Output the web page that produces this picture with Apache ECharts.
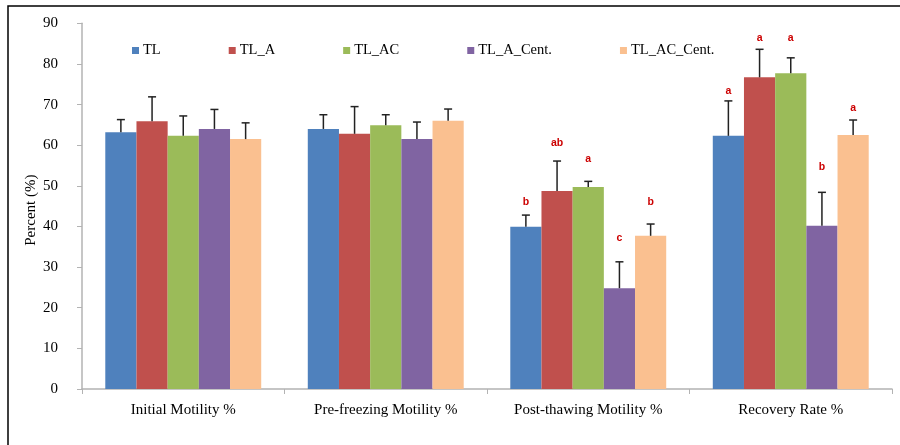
<!DOCTYPE html>
<html>
<head>
<meta charset="utf-8">
<script src="https://cdn.jsdelivr.net/npm/echarts@6/dist/echarts.min.js"></script>
<style>html,body{margin:0;padding:0;background:#fff}#c{width:900px;height:445px}</style>
</head>
<body>
<div id="c"></div>
<script>
const categories = ['Initial Motility %', 'Pre-freezing Motility %', 'Post-thawing Motility %', 'Recovery Rate %'];
const seriesNames = ['TL', 'TL_A', 'TL_AC', 'TL_A_Cent.', 'TL_AC_Cent.'];
const TL = [63.2, 64.0, 39.9, 62.3];
const TL_A = [65.9, 62.8, 48.7, 76.7];
const TL_AC = [62.3, 64.9, 49.7, 77.7];
const TL_A_Cent = [64.0, 61.5, 24.8, 40.2];
const TL_AC_Cent = [61.5, 66.0, 37.7, 62.5];
const TL_err = [3.1, 3.5, 2.9, 8.6];
const TL_A_err = [6.0, 6.7, 7.4, 6.9];
const TL_AC_err = [4.9, 2.6, 1.4, 3.8];
const TL_A_Cent_err = [4.8, 4.2, 6.5, 8.2];
const TL_AC_Cent_err = [4.0, 2.9, 2.9, 3.7];
const TL_letters = ['', '', 'b', 'a'];
const TL_A_letters = ['', '', 'ab', 'a'];
const TL_AC_letters = ['', '', 'a', 'a'];
const TL_A_Cent_letters = ['', '', 'c', 'b'];
const TL_AC_Cent_letters = ['', '', 'b', 'a'];
const TL_letterAt = [null, null, 46.0, 73.4];
const TL_A_letterAt = [null, null, 60.5, 86.3];
const TL_AC_letterAt = [null, null, 56.6, 86.3];
const TL_A_Cent_letterAt = [null, null, 37.2, 54.5];
const TL_AC_Cent_letterAt = [null, null, 45.9, 69.2];
const yTicks = [0, 10, 20, 30, 40, 50, 60, 70, 80, 90];

const means = [TL, TL_A, TL_AC, TL_A_Cent, TL_AC_Cent];
const errs = [TL_err, TL_A_err, TL_AC_err, TL_A_Cent_err, TL_AC_Cent_err];
const letters = [TL_letters, TL_A_letters, TL_AC_letters, TL_A_Cent_letters, TL_AC_Cent_letters];
const letterAt = [TL_letterAt, TL_A_letterAt, TL_AC_letterAt, TL_A_Cent_letterAt, TL_AC_Cent_letterAt];
const colors = ['#4F81BD', '#C0504D', '#9BBB59', '#8064A2', '#FAC090'];
const gapRatio = 0.23;

const errItems = [];
means.forEach((arr, s) => arr.forEach((v, c) => {
  errItems.push({ value: [c, s, v, errs[s][c], letterAt[s][c] == null ? 0 : letterAt[s][c]], letter: letters[s][c] });
}));

const serif = 'Liberation Serif, Times New Roman, serif';
const chart = echarts.init(document.getElementById('c'), null, { renderer: 'canvas' });
const barSeries = seriesNames.map((n, s) => ({
  name: n, type: 'bar', data: means[s], barGap: '0%', barCategoryGap: (gapRatio * 100) + '%',
  itemStyle: { color: colors[s] }, z: 2
}));
chart.setOption({
  animation: false,
  color: colors,
  grid: { left: 82, right: 8, top: 23.3, bottom: 56, containLabel: false },
  legend: {
    data: seriesNames, left: 127, top: 38, icon: 'rect', itemWidth: 7, itemHeight: 7, itemGap: 68,
    textStyle: { fontFamily: serif, fontSize: 14.5, color: '#000', padding: [0, 0, 0, -1] }
  },
  xAxis: {
    type: 'category', data: categories,
    axisLine: { lineStyle: { color: '#B3B3B3', width: 1.5 } },
    axisTick: { show: true, length: 5, lineStyle: { color: '#B3B3B3' } },
    axisLabel: { fontFamily: serif, fontSize: 15, color: '#000', margin: 14 }
  },
  yAxis: {
    type: 'value', min: 0, max: 90, interval: 10,
    name: 'Percent (%)', nameLocation: 'middle', nameGap: 43, nameRotate: 90, nameMoveOverlap: false,
    nameTextStyle: { fontFamily: serif, fontSize: 15, color: '#000', padding: [0, 8, 0, 0] },
    axisLine: { show: true, lineStyle: { color: '#B3B3B3', width: 1.5 } },
    axisTick: { show: true, length: 5, lineStyle: { color: '#B3B3B3' } },
    splitLine: { show: false },
    axisLabel: { fontFamily: serif, fontSize: 15, color: '#000', margin: 24,
      formatter: v => yTicks.includes(v) ? String(v) : '' }
  },
  graphic: [{ type: 'rect', shape: { x: 8, y: 6, width: 920, height: 460 }, style: { fill: 'none', stroke: '#000', lineWidth: 1.5 }, silent: true }],
  series: barSeries.concat([{
    type: 'custom', name: 'err', z: 5, silent: true,
    data: errItems,
    encode: { x: 0, y: 2 },
    renderItem: (params, api) => {
      const item = errItems[params.dataIndex];
      const c = api.value(0), s = api.value(1), m = api.value(2), e = api.value(3), ly = api.value(4);
      const base = api.coord([c, m]);
      const topY = api.coord([c, m + e])[1];
      const bandW = api.size([1, 0])[0];
      const barW = bandW * (1 - gapRatio) / 5;
      const x = base[0] + (s - 2) * barW;
      const children = [
        { type: 'line', shape: { x1: x, y1: base[1], x2: x, y2: topY }, style: { stroke: '#222', lineWidth: 1.5 } },
        { type: 'line', shape: { x1: x - 4, y1: topY, x2: x + 4, y2: topY }, style: { stroke: '#222', lineWidth: 1.5 } }
      ];
      if (item.letter) {
        children.push({ type: 'text', style: { x: x, y: api.coord([c, ly])[1], text: item.letter, fill: '#CC0000',
          font: 'bold 10.5px Liberation Sans, Arial, sans-serif', textAlign: 'center', textVerticalAlign: 'middle' } });
      }
      return { type: 'group', children };
    }
  }])
});
</script>
</body>
</html>
